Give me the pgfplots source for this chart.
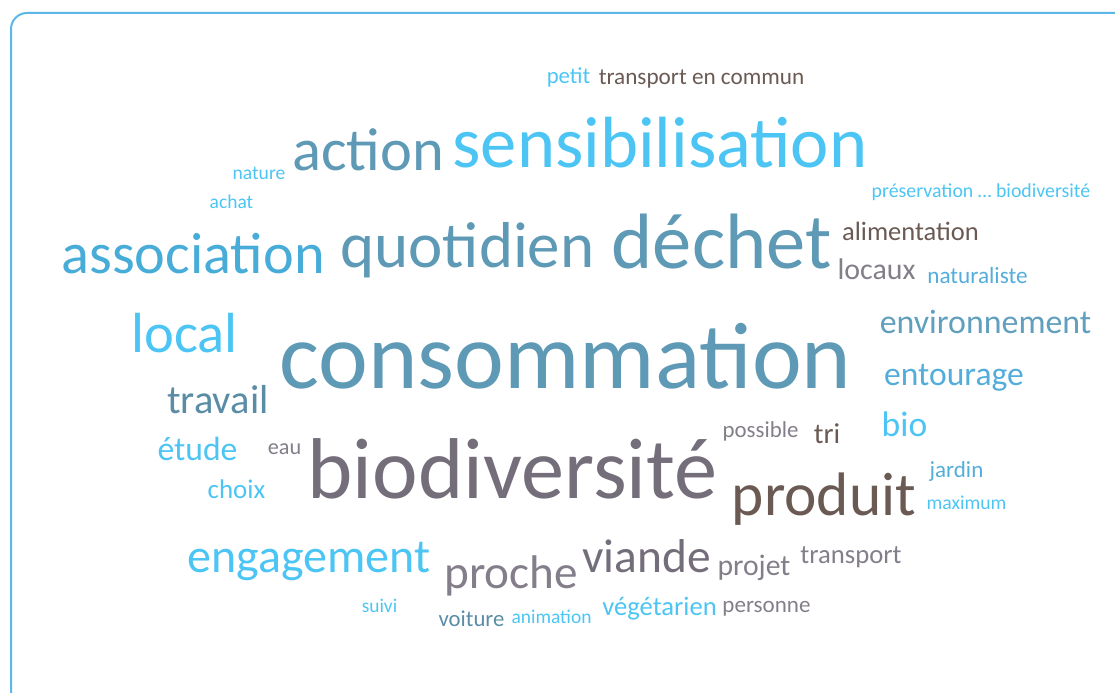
\documentclass[border=0pt]{standalone}
\usepackage{fontspec}
\setmainfont{Carlito}
\usepackage{graphicx}
\usepackage{pgfplots}
\usepackage{pgfplotstable}
\pgfplotsset{compat=1.18}
\definecolor{wc1}{HTML}{4CC5F4}
\definecolor{wc2}{HTML}{5E99B5}
\definecolor{wc3}{HTML}{48ACD8}
\definecolor{wc4}{HTML}{6A5A53}
\definecolor{wc5}{HTML}{746E7B}
\definecolor{wc6}{HTML}{837E89}
\definecolor{wc7}{HTML}{5A8DA5}
\definecolor{wc8}{HTML}{53ADDA}
\definecolor{wc9}{HTML}{609FBD}
\definecolor{cBorder}{HTML}{5BB8E6}
\pgfplotstableread[col sep=comma]{
x,y,w,c,word
547,84,43,1,petit
600,85,203,4,transport en commun
293,170,150,2,action
455,167,410,1,sensibilisation
233,179,52,1,nature
210,209,43,1,achat
873,197,216,1,préservation … biodiversité
63,273,260,3,association
342,267,251,2,quotidien
613,268,217,2,déchet
843,240,135,4,alimentation
838,279,77,6,locaux
928,283,99,8,naturaliste
881,333,209,9,environnement
132,352,105,1,local
283,388,565,2,consommation
885,385,138,8,entourage
168,413,100,7,travail
158,460,79,1,étude
268,454,33,6,eau
208,498,57,1,choix
310,498,405,5,biodiversité
723,437,75,6,possible
814,443,26,4,tri
882,436,45,1,bio
930,477,53,8,jardin
927,509,79,1,maximum
733,515,182,4,produit
189,572,240,1,engagement
445,588,132,6,proche
583,572,127,5,viande
718,575,72,6,projet
801,563,100,6,transport
362,612,35,1,suivi
439,626,65,7,voiture
512,623,79,1,animation
603,615,113,1,végétarien
723,612,87,6,personne
}\words
\begin{document}
\begin{tikzpicture}
\begin{axis}[name=ax,
  scale only axis, width=1115bp, height=693bp,
  xmin=0, xmax=1115, ymin=0, ymax=693, y dir=reverse,
  hide axis, clip=true]
\draw[color=cBorder, line width=2bp, rounded corners=16bp]
  (axis cs:11,13) rectangle (axis cs:1140,720);
\addplot[only marks, mark=none,
  point meta=explicit symbolic,
  visualization depends on={\thisrow{w} \as \wordw},
  visualization depends on={\thisrow{c} \as \wordc},
  nodes near coords={\pgfmathsetmacro{\ww}{\wordw*1.012}\pgfmathtruncatemacro{\ci}{\wordc}\resizebox{\ww bp}{!}{\textcolor{wc\ci}{\pgfplotspointmeta}}},
  every node near coord/.append style={anchor=base west, inner sep=0pt, outer sep=0pt, xshift={-0.006*\wordw*1bp}}]
  table[x=x, y=y, meta=word] {\words};
\end{axis}
\pgfresetboundingbox
\path[use as bounding box] (ax.south west) rectangle (ax.north east);
\end{tikzpicture}
\end{document}
